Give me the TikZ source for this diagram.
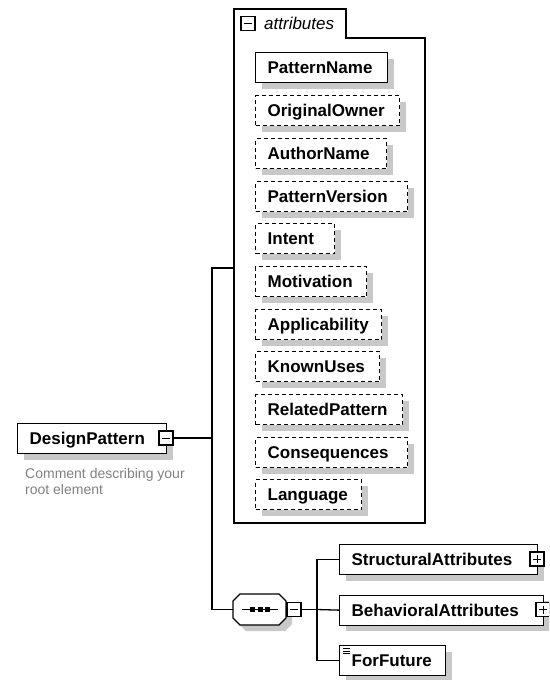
\documentclass[tikz,border=0pt]{standalone}
\usepackage{fontspec}
\setmainfont{Liberation Sans}
\usetikzlibrary{shadows}
\definecolor{shadowgray}{RGB}{200,200,200}
\definecolor{commentgray}{RGB}{128,128,128}
\begin{document}
\begin{tikzpicture}[x=1pt,y=-1pt,
  conn/.style={line width=1.3pt},
  box/.style={draw, line width=1.3pt, fill=white, anchor=north west,
    minimum height=30pt, inner xsep=12pt, inner ysep=0pt,
    text height=12.2pt, text depth=0pt, align=left,
    font=\bfseries\fontsize{17}{20}\selectfont,
    drop shadow={shadow xshift=6pt, shadow yshift=-6pt, fill=shadowgray, opacity=1}},
  optbox/.style={box, dash pattern=on 4pt off 3pt},
  tw/.style={text width=#1pt},
  pmbox/.style={draw, line width=1.1pt, fill=white, minimum size=14pt, inner sep=0pt},
  minusbox/.style={pmbox, path picture={
    \draw[line width=1pt] ([xshift=3pt]path picture bounding box.west) -- ([xshift=-3pt]path picture bounding box.east);}},
  plusbox/.style={pmbox, path picture={
    \draw[line width=1pt] ([xshift=3pt]path picture bounding box.west) -- ([xshift=-3pt]path picture bounding box.east);
    \draw[line width=1pt] ([yshift=-3pt]path picture bounding box.north) -- ([yshift=3pt]path picture bounding box.south);}}
]
\useasboundingbox (0,0) rectangle (549,680);
\clip (0,0) rectangle (549,680);

% attributes container
\draw[conn] (234,9) -- (346,9) -- (346,38) -- (425,38) -- (425,523) -- (234,523) -- cycle;
\node[minusbox] (attrm) at (248,23.5) {};
\node[anchor=west, inner sep=0pt, font=\itshape\fontsize{17}{20}\selectfont] (attrlbl) at (264,23.5) {attributes};

% attribute boxes
\node[box, tw=108]    (pname)  at (255,52)  {PatternName};
\node[optbox, tw=120] (owner)  at (255,95)  {OriginalOwner};
\node[optbox, tw=107] (author) at (255,138) {AuthorName};
\node[optbox, tw=128] (pver)   at (255,181) {PatternVersion};
\node[optbox, tw=55]  (intent) at (255,223) {Intent};
\node[optbox, tw=87]  (motiv)  at (255,266) {Motivation};
\node[optbox, tw=102] (appl)   at (255,309) {Applicability};
\node[optbox, tw=100] (known)  at (255,351) {KnownUses};
\node[optbox, tw=123] (relp)   at (255,394) {RelatedPattern};
\node[optbox, tw=128] (conseq) at (255,437) {Consequences};
\node[optbox, tw=82]  (lang)   at (255,479) {Language};

% root element
\node[box, tw=125] (dp) at (17,423) {DesignPattern};
\node[minusbox] (dpm) at (166,438) {};
\node[anchor=north west, inner sep=0pt, text=commentgray, align=left,
  font=\fontsize{14}{16.5}\selectfont] (cmt) at (25,468) {Comment describing your\\root element};

% sequence compositor
\fill[shadowgray, xshift=6pt, yshift=-6pt] (233,601) -- (240,594) -- (279,594) -- (286,601) -- (286,618) -- (279,625) -- (240,625) -- (233,618) -- cycle;
\draw[conn, fill=white] (233,601) -- (240,594) -- (279,594) -- (286,601) -- (286,618) -- (279,625) -- (240,625) -- (233,618) -- cycle;
\coordinate (seq) at (233,609.5);
\draw[line width=1pt] (242,609.5) -- (278,609.5);
\fill (250,607) rectangle (255,612);
\fill (257.5,607) rectangle (262.5,612);
\fill (265,607) rectangle (270,612);
\node[minusbox] (seqm) at (294,609.5) {};

% child elements
\node[box, tw=174] (sa) at (339,544) {StructuralAttributes};
\node[plusbox] (sap) at (537,559) {};
\node[box, tw=180] (ba) at (339,594.5) {BehavioralAttributes};
\node[plusbox] (bap) at (543,609.5) {};
\node[box, tw=82] (ff) at (339,645) {ForFuture};
\draw[line width=0.8pt] ([xshift=4pt,yshift=-3.5pt]ff.north west) -- ++(7,0);
\draw[line width=0.8pt] ([xshift=4pt,yshift=-6pt]ff.north west) -- ++(7,0);
\draw[line width=0.8pt] ([xshift=4pt,yshift=-8.5pt]ff.north west) -- ++(7,0);

% connectors
\coordinate (trunk) at (212,438);
\coordinate (attrin) at (234,268);
\coordinate (branch) at (317,609.5);
\draw[conn] (dpm.east) -- (trunk);
\draw[conn] (attrin) -| (trunk) |- (seq);
\draw[conn] (seqm.east) -- (branch);
\draw[conn] (sa.west) -| (branch |- ff.west) -- (ff.west);
\draw[conn] (branch) -- (ba.west);
\end{tikzpicture}
\end{document}
